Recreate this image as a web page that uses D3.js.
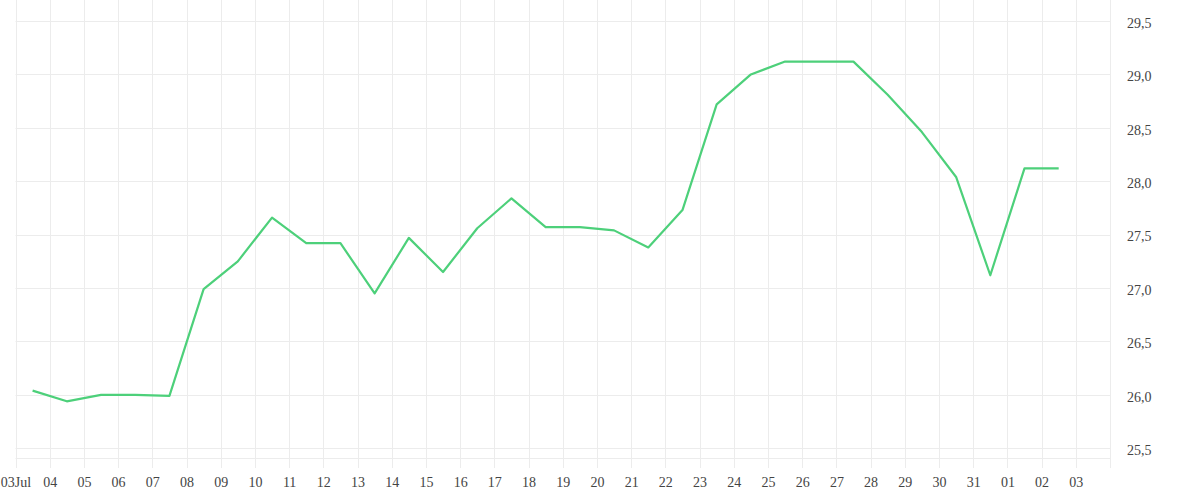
<!DOCTYPE html>
<html>
<head>
<meta charset="utf-8">
<script src="https://cdn.jsdelivr.net/npm/d3@7"></script>
<style>
  body { margin: 0; background: #fff; }
  text { font-family: "Liberation Serif", serif; }
</style>
</head>
<body>
<div id="chart"></div>
<script>
// daily readings, one per day at midday
var startDay = "2023-07-03";
var values = [26.04, 25.94, 26.0, 26.0, 25.99, 26.99, 27.25, 27.66, 27.42, 27.42,
              26.95, 27.47, 27.15, 27.56, 27.84, 27.57, 27.57, 27.54, 27.38, 27.73,
              28.72, 29.0, 29.12, 29.12, 29.12, 28.81, 28.46, 28.04, 27.12, 28.12, 28.12];
var yTicks = [25.5, 26.0, 26.5, 27.0, 27.5, 28.0, 28.5, 29.0, 29.5];
var xStart = "2023-07-03", xEnd = "2023-08-04";

var parse = d3.timeParse("%Y-%m-%d");
var data = values.map(function(v, i) {
    return {date: d3.timeHour.offset(d3.timeDay.offset(parse(startDay), i), 12), value: v};
});

var svg = d3.select("#chart").append("svg").attr("width", 1200).attr("height", 500),
    left = 15.5, right = 1110, top = 12, bottom = 458;

var x = d3.scaleTime()
    .domain([parse(xStart), parse(xEnd)])
    .range([left, right]);
var y = d3.scaleLinear()
    .domain([25.5, 29.5])
    .range([448.3, 21]);

var locale = d3.formatLocale({decimal: ",", thousands: ".", grouping: [3], currency: ["", ""]});
var fmtY = locale.format(".1f");
var fmtDay = d3.timeFormat("%d"), fmtFirst = d3.timeFormat("%d%b");

var days = d3.timeDay.range(parse(xStart), d3.timeDay.offset(parse(xEnd), 1));

// vertical grid lines, running a little below the plot like ticks
svg.append("g")
    .selectAll("line")
    .data(days)
    .enter().append("line")
    .attr("x1", function(d) { return Math.round(x(d)) + 0.5; })
    .attr("x2", function(d) { return Math.round(x(d)) + 0.5; })
    .attr("y1", top)
    .attr("y2", bottom + 10)
    .attr("stroke", "#ececec");

// horizontal grid lines
svg.append("g")
    .selectAll("line")
    .data(yTicks)
    .enter().append("line")
    .attr("x1", left)
    .attr("x2", right)
    .attr("y1", function(d) { return Math.round(y(d)) + 0.5; })
    .attr("y2", function(d) { return Math.round(y(d)) + 0.5; })
    .attr("stroke", "#ececec");

svg.append("line")
    .attr("x1", left).attr("x2", right)
    .attr("y1", bottom + 0.5).attr("y2", bottom + 0.5)
    .attr("stroke", "#ececec");

// x axis labels
var xAxis = d3.axisBottom(x)
    .tickValues(days.slice(0, days.length - 1))
    .tickSize(0)
    .tickPadding(19)
    .tickFormat(function(d, i) { return i == 0 ? fmtFirst(d) : fmtDay(d); });
var gx = svg.append("g").attr("transform", "translate(0," + bottom + ")").call(xAxis);
gx.select(".domain").remove();
gx.selectAll("text").attr("font-size", 14).attr("fill", "#444").attr("font-family", "Liberation Serif");

// y axis labels on the right
var yAxis = d3.axisRight(y)
    .tickValues(yTicks)
    .tickSize(0)
    .tickPadding(17)
    .tickFormat(fmtY);
var gy = svg.append("g").attr("transform", "translate(" + right + ",0)").call(yAxis);
gy.select(".domain").remove();
gy.selectAll("text").attr("font-size", 14).attr("fill", "#444").attr("font-family", "Liberation Serif")
    .attr("dy", "0.45em");

// the line
var line = d3.line()
    .x(function(d) { return x(d.date); })
    .y(function(d) { return y(d.value); });

svg.append("path")
    .datum(data)
    .attr("d", line)
    .attr("fill", "none")
    .attr("stroke", "#4dd07a")
    .attr("stroke-width", 2.2)
    .attr("stroke-linejoin", "round");
</script>
</body>
</html>
